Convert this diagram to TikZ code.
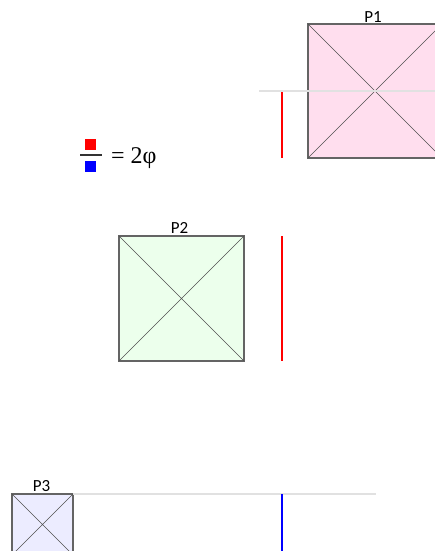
\documentclass[tikz,border=0pt]{standalone}
\usepackage{fontspec}
\setmainfont{Carlito}
\newfontfamily\eqfont{Liberation Serif}
\usetikzlibrary{positioning}

\definecolor{pinkfill}{RGB}{255,222,238}
\definecolor{greenfill}{RGB}{236,255,236}
\definecolor{bluefill}{RGB}{236,236,255}
\definecolor{frame}{RGB}{100,100,100}
\definecolor{guide}{RGB}{225,225,225}
\tikzset{
  panel/.style={draw=frame,line width=1.2pt,inner sep=0pt,outer sep=0pt},
  diag/.style={draw=frame!80!black,line width=0.6pt},
  plabel/.style={font=\fontsize{17}{17}\selectfont,inner sep=0pt},
  guideline/.style={draw=guide,line width=1.4pt},
  bar/.style={line width=2.4pt}
}

\begin{document}
\begin{tikzpicture}[x=1pt,y=-1pt]
  \clip (0,0) rectangle (435,551);
  % P1
  \node[panel,fill=pinkfill,minimum size=134pt] (p1) at (375,91) {};
  \draw[diag] (p1.north west) -- (p1.south east) (p1.north east) -- (p1.south west);
  \node[plabel,above=1.5pt of p1.north,xshift=-2pt] (l1) {P1};
  \coordinate (g1) at (259,91);
  \draw[guideline] (g1) -- (p1.center) -- ++(80,0);
  \coordinate (r1a) at (282,92); \coordinate (r1b) at (282,158);
  \draw[bar,red] (r1a) -- (r1b);
  % ratio
  \node[fill=red,minimum size=11pt,inner sep=0pt] (num) at (90.5,144) {};
  \node[fill=blue,minimum size=11pt,inner sep=0pt] (den) at (90.5,166) {};
  \coordinate (f1) at (80,155); \coordinate (f2) at (102,155);
  \draw[line width=1.6pt,black!80] (f1) -- (f2);
  \node[font=\eqfont\fontsize{24}{24}\selectfont,anchor=base west,inner sep=0pt] (eq) at (111,163) {= 2φ};
  % P2
  \node[panel,fill=greenfill,minimum size=125pt] (p2) at (181.5,298.5) {};
  \draw[diag] (p2.north west) -- (p2.south east) (p2.north east) -- (p2.south west);
  \node[plabel,above=2.5pt of p2.north,xshift=-2pt] (l2) {P2};
  \coordinate (r2a) at (282,236); \coordinate (r2b) at (282,361);
  \draw[bar,red] (r2a) -- (r2b);
  % P3
  \node[panel,fill=bluefill,minimum size=61pt] (p3) at (42.5,524.5) {};
  \draw[diag] (p3.north west) -- (p3.south east) (p3.north east) -- (p3.south west);
  \node[plabel,above=2.5pt of p3.north,xshift=-1pt] (l3) {P3};
  \coordinate (g3) at (376,494);
  \draw[guideline] (p3.north east) -- (g3);
  \coordinate (b3a) at (282,494); \coordinate (b3b) at (282,560);
  \draw[bar,blue] (b3a) -- (b3b);
\end{tikzpicture}
\end{document}
